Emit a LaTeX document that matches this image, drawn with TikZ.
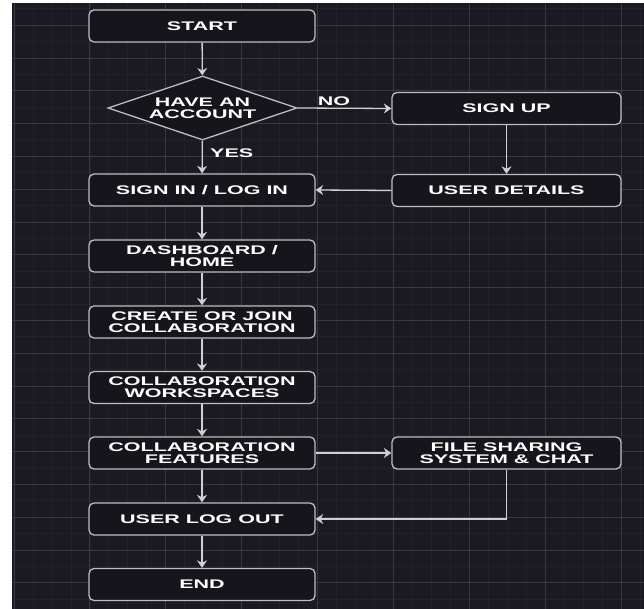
\documentclass[tikz,border=0pt]{standalone}
\usepackage{fontspec}
\newfontfamily\lblfont{Liberation Sans}[FakeStretch=1.72]
\usetikzlibrary{shapes.geometric,arrows.meta}
\definecolor{bgc}{HTML}{1B1A22}
\definecolor{boxfill}{HTML}{16151B}
\definecolor{gridmaj}{HTML}{383742}
\definecolor{gridmin}{HTML}{22212A}
\definecolor{edgec}{HTML}{BDBDC2}
\definecolor{linec}{HTML}{D0D0D4}
\tikzset{
  lbltext/.style={text=white, font=\lblfont\bfseries\fontsize{12.5}{12}\selectfont, align=center},
  procbox/.style={lbltext, draw=edgec, line width=1.3pt, fill=boxfill, rounded corners=5pt,
    minimum width=226pt, minimum height=32pt, inner sep=0pt},
  sidebox/.style={procbox, minimum width=229pt},
  decbox/.style={lbltext, diamond, draw=edgec, line width=1.3pt, fill=boxfill, aspect=2.95,
    minimum width=189pt, minimum height=64pt, inner sep=0pt},
  flow/.style={draw=linec, line width=1.3pt, -{Stealth[length=7.5pt,width=10pt,inset=2.5pt]}},
  edgelbl/.style={text=white, font=\lblfont\bfseries\fontsize{12.5}{12}\selectfont, inner sep=0pt}
}
\begin{document}
\begin{tikzpicture}[x=1pt,y=-1pt]
\useasboundingbox (0,0) rectangle (644,609);
\fill[white] (0,0) rectangle (644,609);
\fill[bgc] (12,3) rectangle (644,609);
% minor grid
\foreach \i in {0,...,33} {
  \draw[gridmin, line width=0.8pt] ({14+18.975*\i},3) -- ({14+18.975*\i},609);
}
\foreach \j in {0,...,36} {
  \draw[gridmin, line width=0.7pt] (12,{8.8+16.4*\j}) -- (644,{8.8+16.4*\j});
}
% major grid
\foreach \i in {0,...,8} {
  \draw[gridmaj, line width=1pt] ({14+75.9*\i},3) -- ({14+75.9*\i},609);
}
\foreach \j in {0,...,18} {
  \draw[gridmaj, line width=0.9pt] (12,{25.2+32.8*\j}) -- (644,{25.2+32.8*\j});
}
% nodes
\node[procbox] (start) at (202,26) {START};
\node[decbox] (dec) at (202.5,108) {HAVE AN\\ACCOUNT};
\node[procbox] (signin) at (202,190) {SIGN IN / LOG IN};
\node[procbox] (dash) at (202,256) {DASHBOARD /\\HOME};
\node[procbox] (create) at (202,322) {CREATE OR JOIN\\COLLABORATION};
\node[procbox] (work) at (202,387.5) {COLLABORATION\\WORKSPACES};
\node[procbox] (feat) at (202,453) {COLLABORATION\\FEATURES};
\node[procbox] (logout) at (202,519) {USER LOG OUT};
\node[procbox] (end) at (202,584.5) {END};
\node[sidebox] (signup) at (506.5,108.5) {SIGN UP};
\node[sidebox] (details) at (506.5,190.5) {USER DETAILS};
\node[sidebox] (files) at (506.5,453) {FILE SHARING\\SYSTEM \& CHAT};
% connectors
\draw[flow] (start) -- (dec);
\draw[flow] (dec) -- (signin);
\node[edgelbl, anchor=west] (yes) at (210,153) {YES};
\draw[flow] (dec.east) -- (signup.west);
\node[edgelbl] (no) at (334,101.5) {NO};
\draw[flow] (signup) -- (details);
\draw[flow] (details.west) -- (signin.east);
\draw[flow] (signin) -- (dash);
\draw[flow] (dash) -- (create);
\draw[flow] (create) -- (work);
\draw[flow] (work) -- (feat);
\draw[flow] (feat) -- (logout);
\draw[flow] (logout) -- (end);
\draw[flow] (feat.east) -- (files.west);
\draw[flow] (files.south) |- (logout.east);
\end{tikzpicture}
\end{document}
